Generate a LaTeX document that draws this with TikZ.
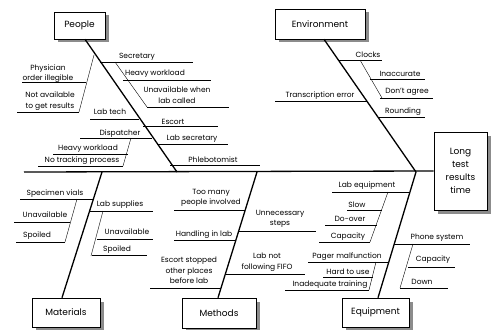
\documentclass[tikz,border=0pt]{standalone}
\usepackage{fontspec}
\setmainfont{Poppins}
\usetikzlibrary{shadows}

\tikzset{
  catbox/.style={draw, fill=white, line width=0.6pt, inner sep=0pt,
    font=\fontsize{9}{13}\selectfont, align=center,
    drop shadow={shadow xshift=3.5pt, shadow yshift=-3.5pt, fill=black!45, opacity=1}},
  bone/.style={line width=1.3pt},
  cause/.style={line width=0.7pt},
  subcause/.style={line width=0.4pt},
  lbl/.style={font=\fontsize{7.5}{10.5}\selectfont, inner sep=0pt, align=center},
}

\begin{document}
\begin{tikzpicture}[x=1pt,y=-1pt]
  \useasboundingbox (0,0) rectangle (494,329);

  % category boxes and effect
  \node[catbox, minimum width=51pt, minimum height=27pt] (people) at (79.5,25.5) {People};
  \node[catbox, minimum width=90pt, minimum height=30pt] (environment) at (320,24) {Environment};
  \node[catbox, minimum width=68pt, minimum height=29pt] (materials) at (66,312.5) {Materials};
  \node[catbox, minimum width=74pt, minimum height=30pt] (methods) at (219,313) {Methods};
  \node[catbox, minimum width=67pt, minimum height=29pt] (equipment) at (375.5,312.5) {Equipment};
  \node[catbox, minimum width=53pt, minimum height=78pt] (effect) at (460.5,171) {Long\\test\\results\\time};

  % spine
  \coordinate (tail) at (24,172);
  \coordinate (head) at (416,172);
  \coordinate (pj) at (177,172);
  \coordinate (mj) at (102,172);
  \coordinate (mtj) at (257,172);
  \draw[bone] (tail) -- (effect.west);

  % main bones
  \draw[bone] ([xshift=5.5pt]people.south) -- (pj);
  \draw[bone] ([xshift=4pt]environment.south) -- (head);
  \draw[bone] ([xshift=-4pt]materials.north) -- (mj);
  \draw[bone] ([xshift=-1pt]methods.north) -- (mtj);
  \draw[bone] ([xshift=2.5pt]equipment.north) -- (head);

  % people
  \foreach \xa/\xb/\y in {100/193/62, 123/211/80, 147/229/107, 22/86/82, 17/79/112,
                          90/139/119, 143/218/126, 80/152/138, 53/128/154, 38/123/166,
                          157/228/144, 170/260/165}
    \draw[cause] (\xa,\y) -- (\xb,\y);
  \draw[subcause] (115,62) -- (147,107);
  \draw[subcause] (94,55) -- (79,112);
  \draw[subcause] (131,138) -- (123,166);
  \node[lbl] (secretary) at (137,57) {Secretary};
  \node[lbl] (workload1) at (155,73.5) {Heavy workload};
  \node[lbl] (unavail1) at (177,95) {Unavailable when\\lab called};
  \node[lbl] (physician) at (48,73.5) {Physician\\order illegible};
  \node[lbl] (notavail) at (50,101) {Not available\\to get results};
  \node[lbl] (labtech) at (110,112) {Lab tech};
  \node[lbl] (escort) at (173,122) {Escort};
  \node[lbl] (dispatcher) at (120,134) {Dispatcher};
  \node[lbl] (workload2) at (88,149) {Heavy workload};
  \node[lbl] (tracking) at (82,161) {No tracking process};
  \node[lbl] (labsecr) at (192,139) {Lab secretary};
  \node[lbl] (phlebo) at (213,159.5) {Phlebotomist};

  % environment
  \foreach \xa/\xb/\y in {338/382/60, 370/425/79, 380/433/98, 275/367/101, 379/425/117}
    \draw[cause] (\xa,\y) -- (\xb,\y);
  \draw[subcause] (360,60) -- (382,98);
  \node[lbl] (clocks) at (368,55) {Clocks};
  \node[lbl] (inaccurate) at (400,73.5) {Inaccurate};
  \node[lbl] (disagree) at (407,92) {Don't agree};
  \node[lbl] (transcr) at (320,96) {Transcription error};
  \node[lbl] (rounding) at (403,111.5) {Rounding};

  % materials
  \foreach \xa/\xb/\y in {20/93/199, 14/70/222, 16/65/242, 90/153/211, 97/153/239, 92/147/255}
    \draw[cause] (\xa,\y) -- (\xb,\y);
  \draw[subcause] (77,199) -- (65,242);
  \draw[subcause] (103,211) -- (91,256);
  \node[lbl] (vials) at (55,193.5) {Specimen vials};
  \node[lbl] (unavail2) at (45,215) {Unavailable};
  \node[lbl] (spoiled1) at (37,236) {Spoiled};
  \node[lbl] (supplies) at (120,204.5) {Lab supplies};
  \node[lbl] (unavail3) at (127,232) {Unavailable};
  \node[lbl] (spoiled2) at (117,249.5) {Spoiled};

  % methods
  \foreach \xa/\xb/\y in {174/245/210, 174/236/240, 239/316/231, 150/221/288, 226/305/274}
    \draw[cause] (\xa,\y) -- (\xb,\y);
  \node[lbl] (toomany) at (211,198) {Too many\\people involved};
  \node[lbl] (handling) at (204,234.5) {Handling in lab};
  \node[lbl] (steps) at (280,219) {Unnecessary\\steps};
  \node[lbl] (stopped) at (189,270.5) {Escort stopped\\other places\\before lab};
  \node[lbl] (fifo) at (267,262) {Lab not\\following FIFO};

  % equipment
  \foreach \xa/\xb/\y in {332/410/192, 347/382/210, 325/377/225, 319/370/242, 308/388/262,
                          323/373/277, 285/369/290, 394/470/244, 408/455/267, 400/448/288}
    \draw[cause] (\xa,\y) -- (\xb,\y);
  \draw[subcause] (388,192) -- (370,242);
  \draw[subcause] (376,262) -- (369,290);
  \draw[subcause] (413,244) -- (400,288);
  \node[lbl] (labequip) at (367,185.5) {Lab equipment};
  \node[lbl] (slow) at (357,205) {Slow};
  \node[lbl] (doover) at (350,219) {Do-over};
  \node[lbl] (capacity1) at (348,236.5) {Capacity};
  \node[lbl] (pager) at (347,256.5) {Pager malfunction};
  \node[lbl] (hardtouse) at (348,271.5) {Hard to use};
  \node[lbl] (training) at (330,285) {Inadequate training};
  \node[lbl] (phone) at (437,238) {Phone system};
  \node[lbl] (capacity2) at (433,260) {Capacity};
  \node[lbl] (down) at (422,282) {Down};
\end{tikzpicture}
\end{document}
